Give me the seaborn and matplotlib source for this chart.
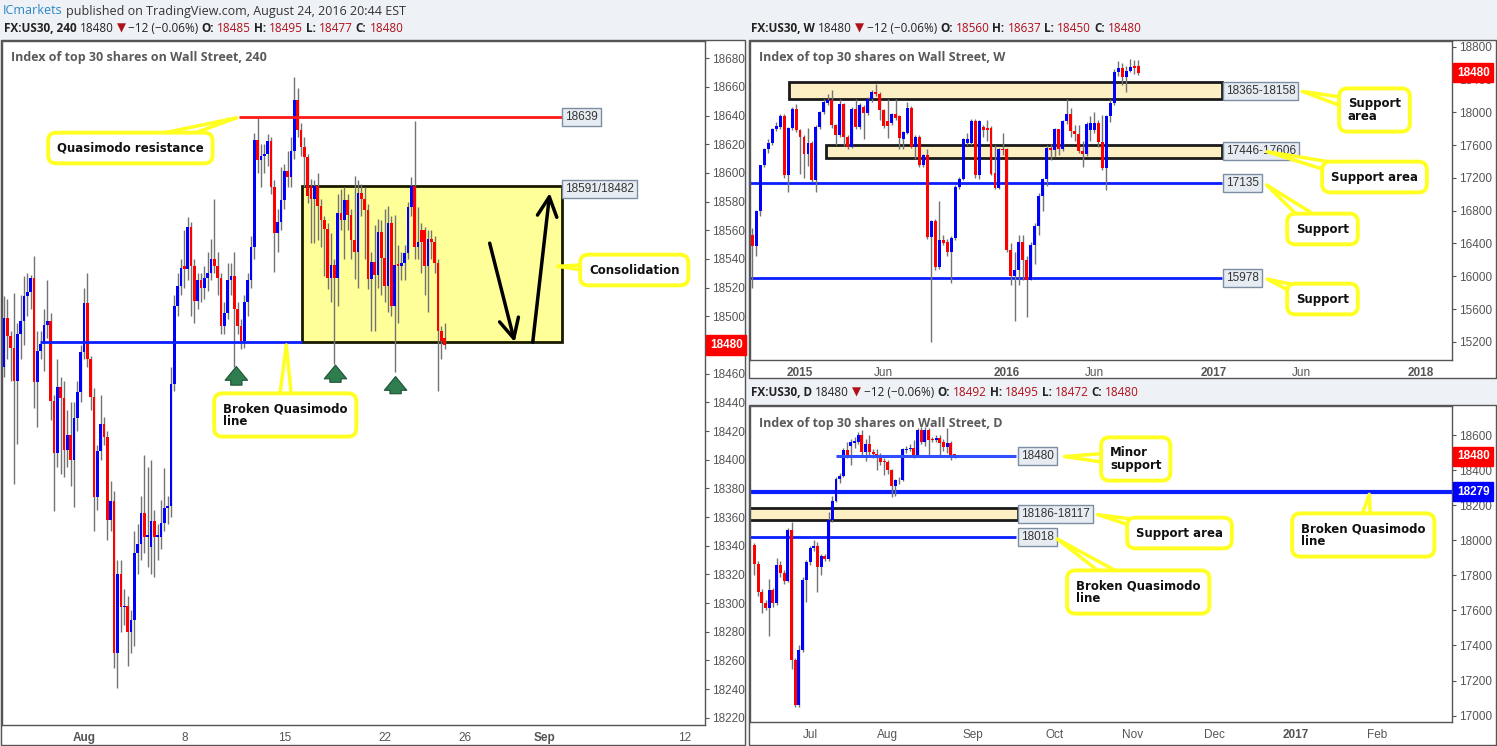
import numpy as np
import pandas as pd
import matplotlib
matplotlib.use("Agg")
import matplotlib.pyplot as plt
import matplotlib.dates as mdates
from matplotlib.patches import Rectangle
import seaborn as sns

# ------------------------------
# Data: US30 4h candles (Jul 26 - Aug 24 2016)
# ------------------------------
h4_open = [18465, 18499, 18486, 18478, 18455, 18488, 18497, 18514, 18517, 18527,
           18454, 18476, 18481, 18494, 18497, 18441, 18405, 18451, 18443, 18407,
           18417, 18400, 18429, 18447, 18475, 18509, 18470, 18444, 18374, 18406,
           18425, 18416, 18358, 18371, 18265, 18320, 18297, 18298, 18280, 18288,
           18335, 18341, 18363, 18346, 18339, 18357, 18346, 18346, 18356, 18366,
           18368, 18453, 18507, 18521, 18535, 18533, 18562, 18535, 18511, 18525,
           18520, 18527, 18530, 18540, 18535, 18527, 18493, 18502, 18525, 18528,
           18505, 18493, 18483, 18510, 18525, 18548, 18623, 18609, 18612, 18613,
           18622, 18590, 18558, 18566, 18581, 18601, 18597, 18615, 18651, 18630,
           18618, 18611, 18591, 18582, 18591, 18577, 18567, 18561, 18527, 18536,
           18527, 18572, 18567, 18581, 18571, 18553, 18545, 18586, 18582, 18574,
           18526, 18538, 18529, 18559, 18541, 18521, 18565, 18507, 18536, 18535,
           18537, 18544, 18576, 18591, 18548, 18560, 18560, 18535, 18554, 18552,
           18537, 18490, 18485]
h4_high = [18514, 18512, 18490, 18516, 18495, 18515, 18528, 18530, 18529, 18542,
           18490, 18490, 18505, 18525, 18502, 18445, 18470, 18458, 18455, 18435,
           18440, 18440, 18455, 18480, 18520, 18530, 18472, 18450, 18410, 18445,
           18430, 18420, 18385, 18378, 18330, 18330, 18310, 18305, 18295, 18350,
           18355, 18375, 18403, 18395, 18400, 18365, 18355, 18372, 18394, 18375,
           18465, 18515, 18530, 18540, 18560, 18569, 18566, 18540, 18530, 18530,
           18535, 18545, 18554, 18582, 18545, 18530, 18510, 18537, 18537, 18545,
           18510, 18498, 18515, 18530, 18556, 18628, 18639, 18620, 18620, 18627,
           18625, 18595, 18575, 18604, 18606, 18615, 18625, 18667, 18659, 18635,
           18625, 18613, 18596, 18595, 18600, 18582, 18570, 18565, 18558, 18540,
           18585, 18589, 18590, 18585, 18575, 18598, 18595, 18592, 18590, 18578,
           18545, 18564, 18568, 18567, 18575, 18577, 18570, 18571, 18550, 18545,
           18550, 18580, 18597, 18636, 18576, 18565, 18562, 18560, 18560, 18556,
           18540, 18493, 18495]
h4_low = [18458, 18470, 18455, 18383, 18411, 18470, 18480, 18500, 18505, 18436,
          18423, 18470, 18462, 18485, 18428, 18364, 18395, 18390, 18388, 18395,
          18382, 18367, 18420, 18440, 18470, 18465, 18435, 18350, 18365, 18400,
          18410, 18344, 18350, 18255, 18241, 18280, 18285, 18256, 18265, 18270,
          18320, 18330, 18335, 18325, 18320, 18318, 18330, 18338, 18350, 18355,
          18360, 18448, 18500, 18515, 18520, 18525, 18500, 18495, 18505, 18510,
          18512, 18518, 18525, 18530, 18515, 18488, 18488, 18498, 18515, 18465,
          18488, 18477, 18478, 18500, 18520, 18540, 18600, 18590, 18600, 18605,
          18585, 18531, 18545, 18560, 18575, 18590, 18590, 18610, 18625, 18612,
          18590, 18579, 18551, 18551, 18553, 18548, 18528, 18519, 18510, 18467,
          18507, 18560, 18540, 18560, 18540, 18526, 18520, 18570, 18540, 18519,
          18490, 18490, 18520, 18515, 18510, 18503, 18500, 18461, 18495, 18525,
          18525, 18540, 18570, 18540, 18540, 18530, 18515, 18503, 18540, 18530,
          18448, 18470, 18477]
h4_close = [18499, 18486, 18478, 18455, 18488, 18497, 18514, 18517, 18527, 18454,
            18476, 18481, 18494, 18497, 18441, 18405, 18451, 18443, 18407, 18417,
            18400, 18429, 18447, 18475, 18509, 18470, 18444, 18374, 18406, 18425,
            18416, 18358, 18371, 18265, 18320, 18297, 18298, 18280, 18288, 18335,
            18341, 18363, 18346, 18346, 18357, 18346, 18346, 18356, 18366, 18368,
            18453, 18507, 18521, 18534, 18533, 18562, 18535, 18511, 18525, 18520,
            18527, 18530, 18540, 18535, 18527, 18493, 18502, 18525, 18528, 18505,
            18493, 18483, 18510, 18525, 18548, 18623, 18609, 18612, 18613, 18622,
            18590, 18558, 18566, 18581, 18601, 18597, 18615, 18651, 18630, 18618,
            18611, 18584, 18582, 18591, 18577, 18567, 18561, 18527, 18536, 18527,
            18572, 18567, 18581, 18571, 18553, 18545, 18586, 18582, 18574, 18526,
            18538, 18529, 18559, 18541, 18521, 18565, 18507, 18536, 18535, 18537,
            18544, 18576, 18591, 18548, 18552, 18552, 18535, 18554, 18552, 18537,
            18490, 18483, 18480]
h4_tick_pos = [24, 54, 84, 114, 138, 162, 204]
h4_tick_labels = ["Aug", "8", "15", "22", "26", "Sep", "12"]

# ------------------------------
# Data: US30 weekly candles (Oct 2014 - Aug 2016)
# ------------------------------
wk_start = "2014-10-13"
wk_open = [16508, 16374, 16802, 17352, 17548, 17629, 17792, 17825, 17955, 17230,
           17804, 18045, 17780, 17702, 17486, 17629, 17173, 17825, 18004, 18118,
           18151, 17845, 17719, 18098, 17702, 17580, 18045, 17825, 18069, 17996,
           18159, 18248, 18228, 18024, 17894, 17874, 17975, 17955, 17678, 17751,
           18057, 17580, 17702, 17352, 17474, 16480, 16671, 16113, 16439, 16415,
           16292, 16468, 17091, 17189, 17621, 17621, 17894, 17230, 17825, 17812,
           17812, 17254, 17079, 17548, 17548, 16317, 15999, 16081, 16419, 16195,
           15958, 16386, 16610, 16977, 17181, 17568, 17535, 17792, 17548, 17894,
           17984, 17772, 17731, 17527, 17486, 17784, 17784, 17865, 17637, 17319,
           17955, 18110, 18485, 18534, 18424, 18505, 18566, 18560]
wk_high = [16590, 16810, 17360, 17560, 17670, 17810, 17882, 17975, 17975, 17820,
           18060, 18098, 17800, 17720, 17812, 17650, 17840, 18020, 18159, 18228,
           18269, 17860, 18159, 18110, 17720, 18060, 18159, 18110, 18090, 18191,
           18269, 18350, 18250, 18040, 18159, 17990, 18159, 17970, 17770, 18126,
           18070, 17720, 17719, 17490, 17548, 16690, 16700, 16916, 16500, 16450,
           16490, 17110, 17209, 17690, 17751, 17920, 17920, 17910, 17850, 17900,
           17830, 17600, 17560, 17750, 17560, 16400, 16300, 16500, 16500, 16250,
           16420, 16650, 17010, 17200, 17600, 17610, 17810, 17800, 17910, 18159,
           18050, 17850, 17840, 17650, 17880, 17950, 18000, 17900, 17960, 17970,
           18160, 18530, 18627, 18600, 18560, 18648, 18637, 18637]
wk_low = [15856, 16250, 16733, 17330, 17507, 17600, 17770, 17800, 17200, 17026,
          17780, 17760, 17250, 17201, 17344, 17150, 17026, 17800, 17980, 18090,
          17812, 17600, 17700, 17588, 17548, 17560, 17800, 17800, 17670, 17960,
          18130, 18200, 17906, 17810, 17690, 17850, 17900, 17556, 17556, 17730,
          17560, 17425, 17330, 17330, 16460, 15204, 16080, 16090, 16380, 16250,
          15918, 16440, 17060, 17170, 17600, 17600, 17200, 17180, 17700, 17650,
          17230, 17060, 17060, 17480, 16300, 15890, 15450, 15900, 15950, 15510,
          15950, 16150, 16500, 16800, 17100, 17420, 17450, 17480, 17530, 17860,
          17700, 17650, 17500, 17330, 17470, 17650, 17750, 17570, 17300, 17050,
          17880, 18090, 18440, 18330, 18250, 18490, 18470, 18450]
wk_close = [16374, 16802, 17352, 17548, 17629, 17792, 17833, 17955, 17230, 17804,
            18045, 17780, 17702, 17486, 17629, 17173, 17825, 18004, 18126, 18151,
            17845, 17719, 18098, 17702, 17580, 18045, 17825, 18085, 17996, 18159,
            18248, 18228, 18024, 17833, 17833, 17975, 17935, 17690, 17759, 18057,
            17580, 17702, 17352, 17474, 16480, 16671, 16113, 16439, 16407, 16292,
            16468, 17091, 17189, 17670, 17670, 17894, 17230, 17894, 17784, 17784,
            17242, 17079, 17548, 17540, 16317, 15999, 16081, 16419, 16195, 15958,
            16386, 16610, 16977, 17181, 17568, 17535, 17792, 17548, 17894, 17984,
            17772, 17731, 17527, 17486, 17853, 17865, 17865, 17637, 17319, 17955,
            18110, 18485, 18534, 18424, 18505, 18546, 18540, 18480]
wk_tick_dates = ["2015-01-05", "2015-06-01", "2016-01-04", "2016-06-06",
                 "2017-01-02", "2017-06-05", "2018-01-01"]
wk_tick_labels = ["2015", "Jun", "2016", "Jun", "2017", "Jun", "2018"]

# ------------------------------
# Data: US30 daily candles (Jun - Aug 2016)
# ------------------------------
d_open = [17974, 17866, 17707, 17644, 17617, 17717, 17640, 17860, 17812, 17770,
          18057, 17319, 17058, 17377, 17774, 17879, 17955, 17969, 17850, 17911,
          17892, 18118, 18228, 18351, 18370, 18519, 18542, 18557, 18561, 18605,
          18504, 18553, 18504, 18494, 18481, 18452, 18446, 18404, 18313, 18343,
          18347, 18515, 18523, 18528, 18490, 18630, 18561, 18633, 18580, 18576,
          18586, 18561, 18534, 18557, 18492]
d_high = [17985, 17880, 17720, 17660, 17780, 17730, 17900, 17880, 17830, 18070,
          18108, 17330, 17401, 17790, 17890, 17970, 18003, 17990, 17920, 17920,
          18165, 18255, 18360, 18385, 18530, 18560, 18580, 18590, 18618, 18630,
          18580, 18600, 18520, 18520, 18500, 18470, 18460, 18410, 18350, 18360,
          18530, 18540, 18553, 18572, 18640, 18650, 18650, 18640, 18590, 18600,
          18600, 18580, 18643, 18570, 18495]
d_low = [17803, 17680, 17587, 17600, 17453, 17620, 17630, 17790, 17750, 17760,
         17268, 17048, 17050, 17360, 17650, 17860, 17940, 17707, 17800, 17880,
         17880, 18105, 18220, 18330, 18360, 18470, 18433, 18530, 18550, 18481,
         18452, 18490, 18470, 18400, 18430, 18375, 18380, 18250, 18255, 18320,
         18340, 18500, 18510, 18470, 18480, 18550, 18540, 18481, 18560, 18560,
         18490, 18510, 18500, 18460, 18472]
d_close = [17866, 17707, 17644, 17617, 17717, 17640, 17860, 17812, 17770, 18057,
           17319, 17058, 17377, 17774, 17879, 17955, 17969, 17850, 17911, 17892,
           18118, 18228, 18351, 18370, 18519, 18490, 18561, 18567, 18605, 18504,
           18553, 18504, 18494, 18481, 18446, 18446, 18404, 18313, 18343, 18347,
           18523, 18523, 18528, 18490, 18630, 18561, 18633, 18576, 18572, 18586,
           18557, 18534, 18557, 18490, 18480]
d_tick_pos = [15, 36, 59, 81, 102, 124, 146, 168]
d_tick_labels = ["Jul", "Aug", "Sep", "Oct", "Nov", "Dec", "2017", "Feb"]

# ------------------------------
# Style
# ------------------------------
W, H = 1497, 746
UP, DOWN, WICK = "#0000ff", "#ff0000", "#737373"
LINE_BLUE = "#0a1eff"
ZONE_FILL = "#fdefc4"
TXT = "#555555"

sns.set_style("white")
plt.rcParams["font.family"] = ["Liberation Sans", "DejaVu Sans"]
plt.rcParams["axes.edgecolor"] = "#555555"
plt.rcParams["axes.linewidth"] = 1.0

fig = plt.figure(figsize=(W / 100, H / 100), dpi=100, facecolor="#eef1f5")


def frame(x0, y0, x1, y1):
    fig.add_artist(Rectangle((x0 / W, 1 - y1 / H), (x1 - x0) / W, (y1 - y0) / H,
                             transform=fig.transFigure, fc="white", ec="#555555",
                             lw=1, zorder=0))


def px_axes(x0, y0, x1, y1):
    ax = fig.add_axes([x0 / W, 1 - y1 / H, (x1 - x0) / W, (y1 - y0) / H])
    ax.set_facecolor("white")
    for s in ax.spines.values():
        s.set_color("#555555")
        s.set_linewidth(1)
    ax.yaxis.tick_right()
    ax.tick_params(axis="both", length=3, color="#555555", labelcolor=TXT,
                   labelsize=8.5, pad=2, direction="out")
    return ax


def candles(ax, x, o, h, l, c, width, min_h):
    o, h, l, c = map(np.asarray, (o, h, l, c))
    up = c >= o
    ax.vlines(x, l, h, color=WICK, lw=1, zorder=3)
    body = np.maximum(np.abs(c - o), min_h)
    ax.bar(x, body, bottom=np.minimum(o, c), width=width,
           color=np.where(up, UP, DOWN), linewidth=0, zorder=4)


def panel_title(ax, text):
    ax.annotate(text, xy=(0, 1), xycoords="axes fraction", xytext=(9, -17),
                textcoords="offset pixels", ha="left", va="center", color="#5a5a5a",
                fontsize=9, fontweight="bold", family="Open Sans")


def price_tag(ax, val, fc):
    ax.annotate(str(val), xy=(1, val), xycoords=("axes fraction", "data"),
                xytext=(5, 0), textcoords="offset pixels", ha="left", va="center",
                color="white", fontweight="bold", fontsize=8.5,
                bbox=dict(boxstyle="square,pad=0.3", fc=fc, ec=fc),
                annotation_clip=False, zorder=20)


def level_label(ax, x, y, text):
    ax.annotate(text, xy=(x, y), ha="left", va="center", color="#333333", fontsize=8.5,
                bbox=dict(boxstyle="square,pad=0.25", fc="#e6ecf2", ec="#7d8ea3", lw=1),
                zorder=15, annotation_clip=False)


def callout(ax, text, tip, box_px):
    ax.annotate(text, xy=tip, xytext=(box_px[0], H - box_px[1]),
                textcoords="figure pixels", ha="left", va="center",
                fontsize=8.5, fontweight="bold", family="DejaVu Sans", color="#111111",
                linespacing=0.95,
                bbox=dict(boxstyle="round,pad=0.75,rounding_size=0.7", fc="white",
                          ec="#ffff22", lw=2.8),
                arrowprops=dict(arrowstyle="wedge,tail_width=1.3,shrink_factor=0.5",
                                fc="white", ec="#ffff22", lw=2.5, patchA=None),
                zorder=18, annotation_clip=False)


def set_xticks(ax, pos, labels, bold):
    ax.set_xticks(pos)
    ax.set_xticklabels(labels)
    for lbl, txt in zip(ax.get_xticklabels(), labels):
        if txt in bold:
            lbl.set_fontweight("bold")


def text_row(x, y, parts, size=8.5):
    r = fig.canvas.get_renderer()
    for s, color, weight in parts:
        t = fig.text(x / W, 1 - y / H, s, color=color, fontsize=size, fontweight=weight,
                     family=["Open Sans", "DejaVu Sans"], ha="left", va="center")
        x += t.get_window_extent(renderer=r).width + 3


def header(x, y, name, o, h, l, c):
    red = "#b0101a"
    text_row(x, y, [(name, "#222222", "bold"), ("18480", "#222222", "normal"),
                    ("▼", red, "normal"), ("−12 (−0.06%)", "#222222", "normal"),
                    ("O:", "#222222", "bold"), (str(o), red, "normal"),
                    ("H:", "#222222", "bold"), (str(h), red, "normal"),
                    ("L:", "#222222", "bold"), (str(l), red, "normal"),
                    ("C:", "#222222", "bold"), (str(c), red, "normal")])


# ------------------------------
# Frames + header text
# ------------------------------
frame(1, 40, 745, 745)
frame(749, 40, 1496, 378)
frame(749, 405, 1496, 745)

text_row(3, 11, [("ICmarkets", "#2a86c5", "normal"),
                 ("published on TradingView.com, August 24, 2016 20:44 EST", "#333333", "normal")], size=9)
header(4, 28, "FX:US30, 240", 18485, 18495, 18477, 18480)
header(751, 28, "FX:US30, W", 18560, 18637, 18450, 18480)
header(751, 392, "FX:US30, D", 18492, 18495, 18472, 18480)

# ------------------------------
# 4h panel
# ------------------------------
ax1 = px_axes(2, 41, 705, 725)
x4 = np.arange(len(h4_close))
ax1.add_patch(Rectangle((89.4, 18482), 167.1 - 89.4, 18591 - 18482, fc="#ffff99",
                        ec="#1a1a00", lw=2, zorder=1))
candles(ax1, x4, h4_open, h4_high, h4_low, h4_close, 0.8, 1.2)
ax1.hlines(18639, 70.5, 167.1, color="#ff1a1a", lw=2, zorder=5)
ax1.hlines(18482, 10.8, 89.4, color=LINE_BLUE, lw=2, zorder=5)
ax1.set_xlim(-0.6, 210)
ax1.set_ylim(18215, 18692)
ax1.set_yticks(np.arange(18220, 18700, 20))
set_xticks(ax1, h4_tick_pos, h4_tick_labels, {"Aug", "Sep"})
panel_title(ax1, "Index of top 30 shares on Wall Street, 240")
level_label(ax1, 168, 18639, "18639")
level_label(ax1, 168, 18589, "18591/18482")
price_tag(ax1, 18480, "#ff0000")

ax1.annotate("", xy=(153.0, 18482), xytext=(145.5, 18551),
             arrowprops=dict(arrowstyle="->,head_length=0.7,head_width=0.35", lw=2.5,
                             color="black", shrinkA=0, shrinkB=0, mutation_scale=20), zorder=9)
ax1.annotate("", xy=(163.5, 18586), xytext=(158.4, 18482),
             arrowprops=dict(arrowstyle="->,head_length=0.7,head_width=0.35", lw=2.5,
                             color="black", shrinkA=0, shrinkB=0, mutation_scale=20), zorder=9)
for gx, gtop, gbot in [(69.6, 18465, 18452), (99.3, 18466, 18454), (117.3, 18458, 18446)]:
    ax1.annotate("", xy=(gx, gtop), xytext=(gx, gbot),
                 arrowprops=dict(arrowstyle="simple,head_length=0.55,head_width=0.9,tail_width=0.45",
                                 fc="#2f7d4e", ec="#1d5233", lw=0.8, shrinkA=0, shrinkB=0,
                                 mutation_scale=18), zorder=9)

callout(ax1, "Quasimodo resistance", (70.5, 18639), (57, 148))
callout(ax1, "Consolidation", (165, 18535), (589, 270))
callout(ax1, "Broken Quasimodo\nline", (84.6, 18482), (223, 415))

# ------------------------------
# Weekly panel
# ------------------------------
ax2 = px_axes(750, 41, 1452, 360)
wk_dates = pd.date_range(wk_start, periods=len(wk_close), freq="7D")
xw = mdates.date2num(wk_dates)
d2n = lambda s: mdates.date2num(pd.Timestamp(s))
z_end = d2n("2017-01-16")
ax2.add_patch(Rectangle((d2n("2014-12-17"), 18158), z_end - d2n("2014-12-17"), 18365 - 18158,
                        fc=ZONE_FILL, ec="#1a1a1a", lw=2, zorder=1))
ax2.add_patch(Rectangle((d2n("2015-02-19"), 17446), z_end - d2n("2015-02-19"), 17606 - 17446,
                        fc=ZONE_FILL, ec="#1a1a1a", lw=2, zorder=1))
ax2.hlines([17135, 15978], d2n("2014-10-01"), z_end, color=LINE_BLUE, lw=2, zorder=2)
candles(ax2, xw, wk_open, wk_high, wk_low, wk_close, 5.2, 10)
ax2.set_xlim(d2n("2014-10-09"), d2n("2018-02-25"))
ax2.set_ylim(14980, 18868)
ax2.set_yticks(np.arange(15200, 18801, 400))
set_xticks(ax2, [d2n(d) for d in wk_tick_dates], wk_tick_labels, {"2015", "2016", "2017", "2018"})
panel_title(ax2, "Index of top 30 shares on Wall Street, W")
lx = d2n("2017-01-23")
level_label(ax2, lx, 18262, "18365-18158")
level_label(ax2, lx, 17526, "17446-17606")
level_label(ax2, lx, 17135, "17135")
level_label(ax2, lx, 15978, "15978")
price_tag(ax2, 18480, "#ff0000")
callout(ax2, "Support\narea", (d2n("2017-06-02"), 18262), (1348, 110))
callout(ax2, "Support area", (d2n("2017-04-01"), 17526), (1331, 177))
callout(ax2, "Support", (d2n("2017-04-01"), 17135), (1296, 229))
callout(ax2, "Support", (d2n("2017-04-01"), 15978), (1296, 299))

# ------------------------------
# Daily panel
# ------------------------------
ax3 = px_axes(750, 406, 1452, 722)
xd = np.arange(len(d_close))
ax3.add_patch(Rectangle((-3, 18117), 71.2 + 3, 18186 - 18117, fc=ZONE_FILL,
                        ec="#1a1a1a", lw=2, zorder=1))
ax3.hlines(18279, -3, 200, color=LINE_BLUE, lw=3, zorder=2)
ax3.hlines(18018, -3, 70.7, color=LINE_BLUE, lw=2, zorder=2)
ax3.hlines(18480, 21.9, 70.7, color="#3050ff", lw=2.2, zorder=5)
candles(ax3, xd, d_open, d_high, d_low, d_close, 0.8, 3)
ax3.set_xlim(-1.2, 188.2)
ax3.set_ylim(16963, 18768)
ax3.set_yticks(np.arange(17000, 18601, 200))
set_xticks(ax3, d_tick_pos, d_tick_labels, {"2017"})
panel_title(ax3, "Index of top 30 shares on Wall Street, D")
level_label(ax3, 72, 18480, "18480")
level_label(ax3, 72, 18151, "18186-18117")
level_label(ax3, 72, 18018, "18018")
price_tag(ax3, 18480, "#ff0000")
price_tag(ax3, 18279, "#0000ff")
callout(ax3, "Minor\nsupport", (82.9, 18480), (1110, 459))
callout(ax3, "Support area", (91.8, 18151), (1136, 533))
callout(ax3, "Broken Quasimodo\nline", (81, 18018), (1076, 592))
callout(ax3, "Broken Quasimodo\nline", (166, 18279), (1301, 535))

fig.savefig("out.png", dpi=100, facecolor=fig.get_facecolor())
